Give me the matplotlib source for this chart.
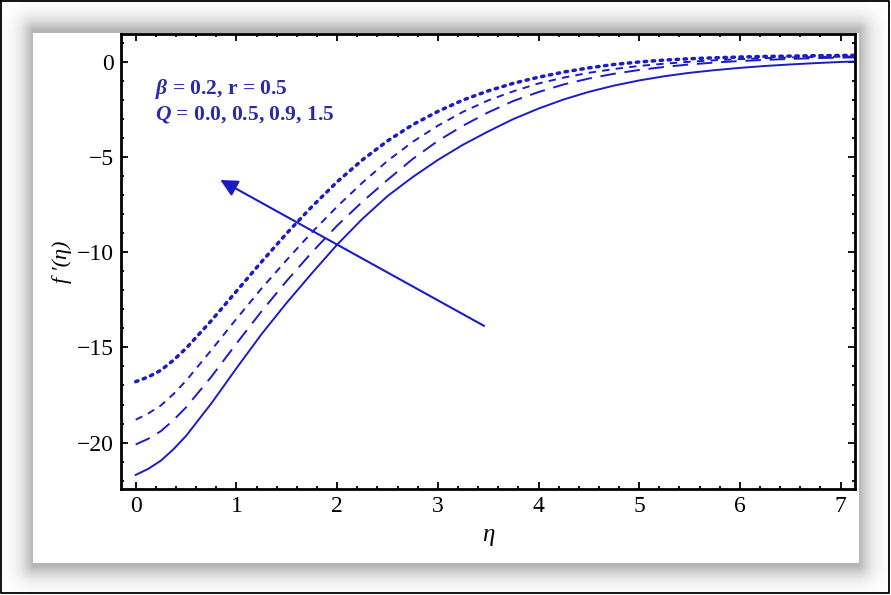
import matplotlib.pyplot as plt
import numpy as np

plt.rcParams['mathtext.fontset'] = 'custom'
plt.rcParams['mathtext.it'] = 'Liberation Serif:italic:bold'
plt.rcParams['mathtext.rm'] = 'Liberation Serif:bold'

# eta grid and read-off values of f'(eta) for each Q
eta = [0.0, 0.125, 0.25, 0.375, 0.5, 0.75, 1.0, 1.25, 1.5, 1.75, 2.0, 2.25, 2.5, 2.75,
       3.0, 3.25, 3.5, 3.75, 4.0, 4.25, 4.5, 4.75, 5.0, 5.25, 5.5, 5.75, 6.0, 6.25,
       6.5, 6.75, 7.0, 7.15]

q00 = [-21.7, -21.38, -20.95, -20.35, -19.65, -17.95, -16.1, -14.3, -12.65, -11.1,
       -9.6, -8.25, -7.05, -6.05, -5.15, -4.35, -3.65, -3.0, -2.45, -1.97, -1.57,
       -1.24, -0.97, -0.75, -0.57, -0.43, -0.31, -0.21, -0.13, -0.06, 0.0, 0.03]
q05 = [-20.1, -19.8, -19.4, -18.82, -18.15, -16.55, -14.8, -13.1, -11.5, -10.0,
       -8.6, -7.35, -6.2, -5.1, -4.15, -3.35, -2.65, -2.05, -1.58, -1.18, -0.87,
       -0.62, -0.42, -0.26, -0.13, -0.03, 0.05, 0.11, 0.16, 0.2, 0.23, 0.24]
q09 = [-18.8, -18.47, -18.05, -17.45, -16.75, -15.15, -13.5, -11.9, -10.4, -8.95,
       -7.6, -6.35, -5.2, -4.2, -3.35, -2.62, -2.02, -1.54, -1.13, -0.82, -0.57,
       -0.37, -0.21, -0.09, 0.01, 0.09, 0.15, 0.2, 0.24, 0.26, 0.28, 0.29]
q15 = [-16.8, -16.55, -16.2, -15.67, -15.05, -13.6, -12.05, -10.5, -9.0, -7.6,
       -6.3, -5.15, -4.15, -3.3, -2.6, -2.0, -1.52, -1.12, -0.8, -0.53, -0.31,
       -0.13, 0.0, 0.1, 0.17, 0.22, 0.26, 0.29, 0.31, 0.33, 0.34, 0.35]

blue = '#1c1cc4'
serif = ['Liberation Serif', 'DejaVu Serif']

W, H = 891, 595
fig = plt.figure(figsize=(W / 100, H / 100), dpi=100)

# background: white panel with soft drop shadow and thin outer frame
bg = fig.add_axes([0, 0, 1, 1])
px0, py0, px1, py1 = 33, 33, 858, 562
xx, yy = np.meshgrid(np.arange(W), np.arange(H))
dx = np.maximum(np.maximum(px0 - xx, xx - px1), 0)
dy = np.maximum(np.maximum(py0 - yy - 3, yy - py1 - 3), 0)
d = np.hypot(dx, dy)
shade = 1 - 0.29 * np.exp(-(d / 12.0) ** 1.3)
inside = (xx >= px0) & (xx <= px1) & (yy >= py0) & (yy <= py1)
shade[inside] = 1.0
bg.imshow(shade, cmap='gray', vmin=0, vmax=1, extent=[0, W, H, 0], aspect='auto')
bg.plot([1, W - 2, W - 2, 1, 1], [1, 1, H - 2, H - 2, 1], color='black', lw=1.3)
bg.set_xlim(0, W)
bg.set_ylim(H, 0)
bg.axis('off')

ax = fig.add_axes([121 / W, 1 - 489 / H, (855 - 121) / W, (489 - 34) / H])
ax.plot(eta, q00, color=blue, lw=1.4, ls='-')
ax.plot(eta, q05, color=blue, lw=1.4, ls=(0, (8, 4.5)))
ax.plot(eta, q09, color=blue, lw=1.4, ls=(0, (3.8, 3.2)))
ax.plot(eta, q15, color=blue, lw=2.5, ls=(0, (0.7, 1.6)), dash_capstyle='round')

ax.set_xlim(-0.146, 7.143)
ax.set_ylim(-22.44, 1.47)
ax.set_xticks(range(0, 8))
ax.set_yticks([0, -5, -10, -15, -20])
ax.set_yticklabels(['0', '\u22125', '\u221210', '\u221215', '\u221220'])
ax.set_xticks(np.arange(0, 7.2, 0.2), minor=True)
ax.set_yticks(np.arange(-22, 1.5, 1), minor=True)
ax.tick_params(which='both', direction='in', top=True, right=True, width=1.3,
               labelsize=17, pad=5)
ax.tick_params(which='major', length=5)
ax.tick_params(which='minor', length=2.5)
for lab in ax.get_xticklabels() + ax.get_yticklabels():
    lab.set_family(serif)
for s in ax.spines.values():
    s.set_linewidth(2)

ax.set_xlabel('\u03b7', family=serif, style='italic', fontsize=18, labelpad=5)
ax.set_ylabel("f \u2032(\u03b7)", family=serif, style='italic', fontsize=16, labelpad=4)

ax.annotate('', xy=(0.84, -6.2), xytext=(3.46, -13.87),
            arrowprops=dict(arrowstyle='-|>', color=blue, lw=1.5,
                            mutation_scale=26, shrinkA=0, shrinkB=0))

ax.text(0.19, -1.7, r'$\beta$ = 0.2, r = 0.5', color='#2a2aa8', fontsize=15.5,
        fontweight='bold', family=serif, va='baseline')
ax.text(0.19, -3.0, r'$Q$ = 0.0, 0.5, 0.9, 1.5', color='#2a2aa8', fontsize=15.5,
        fontweight='bold', family=serif, va='baseline')

fig.savefig('out.png', dpi=100)
